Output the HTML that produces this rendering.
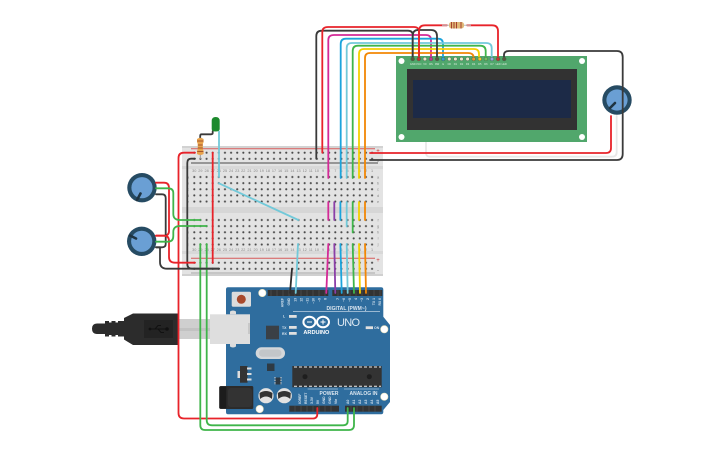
<!DOCTYPE html>
<html><head><meta charset="utf-8"><style>
html,body{margin:0;padding:0;background:#fff}
svg{display:block}
text{font-family:"Liberation Sans",sans-serif}
.w{fill:none;stroke-width:1.8;stroke-linejoin:round;stroke-linecap:round}
.pl{font-size:3.4px;fill:#d5e2ee;font-weight:bold}
.nm{font-size:3.8px;fill:#888}
</style></head><body>
<svg width="725" height="453" viewBox="0 0 725 453" xmlns="http://www.w3.org/2000/svg">
<defs>
<pattern id="h1" x="191.24" y="149.64" width="6.13" height="6.13" patternUnits="userSpaceOnUse"><circle cx="3.06" cy="3.06" r="1.05" fill="#4a4a4a"/></pattern>
<pattern id="h2" x="191.24" y="173.94" width="6.13" height="6.13" patternUnits="userSpaceOnUse"><circle cx="3.06" cy="3.06" r="1.05" fill="#4a4a4a"/></pattern>
<pattern id="h3" x="191.24" y="216.94" width="6.13" height="6.13" patternUnits="userSpaceOnUse"><circle cx="3.06" cy="3.06" r="1.05" fill="#4a4a4a"/></pattern>
<pattern id="h4" x="191.24" y="259.64" width="6.13" height="6.13" patternUnits="userSpaceOnUse"><circle cx="3.06" cy="3.06" r="1.05" fill="#4a4a4a"/></pattern>
</defs>

<!-- LCD shadow wire -->
<path class="w" d="M426 142V153Q426 156.7 430 156.7H612Q616.7 156.7 616.7 152V116" stroke="#e8e8e8"/>

<!-- LCD -->
<rect x="396" y="56" width="191" height="86" fill="#51a76c"/>
<circle cx="401.5" cy="61" r="3" fill="#fff"/><circle cx="582" cy="61" r="3" fill="#fff"/><circle cx="401.5" cy="137" r="3" fill="#fff"/><circle cx="582" cy="137" r="3" fill="#fff"/>
<rect x="407" y="69" width="170" height="61" fill="#323232"/>
<rect x="413" y="80" width="158" height="38" fill="#1c2a47"/>
<g font-size="2.6" fill="#dcecdf" text-anchor="middle">
<text x="412.7" y="65">GND</text><text x="418.8" y="65">VCC</text><text x="424.9" y="65">V0</text><text x="431" y="65">RS</text><text x="437.1" y="65">RW</text><text x="443.2" y="65">E</text><text x="449.3" y="65">D0</text><text x="455.4" y="65">D1</text><text x="461.5" y="65">D2</text><text x="467.6" y="65">D3</text><text x="473.7" y="65">D4</text><text x="479.8" y="65">D5</text><text x="485.9" y="65">D6</text><text x="492" y="65">D7</text><text x="498.1" y="65">LED</text><text x="504.2" y="65">LED</text>
</g>

<!-- Breadboard -->
<rect x="182" y="146" width="201" height="130" rx="2" fill="#e3e3e3"/>
<rect x="182" y="166" width="201" height="3" fill="#d8d8d8"/>
<rect x="182" y="207" width="201" height="6" fill="#d6d6d6"/>
<rect x="182" y="251" width="201" height="3" fill="#d8d8d8"/>
<rect x="182" y="146" width="201" height="2" fill="#d2d2d2"/>
<rect x="182" y="274" width="201" height="2" fill="#d0d0d0"/>
<path d="M191 148.7H375M191 258.3H375" stroke="#d65a5a" stroke-width="1"/>
<path d="M191 163H378" stroke="#4a4a4a" stroke-width="1"/>
<path d="M191 273H375" stroke="#aaa" stroke-width="1"/>
<rect x="191.24" y="149.64" width="183.9" height="12.26" fill="url(#h1)"/>
<rect x="191.24" y="173.94" width="183.9" height="30.65" fill="url(#h2)"/>
<rect x="191.24" y="216.94" width="183.9" height="30.65" fill="url(#h3)"/>
<rect x="191.24" y="259.64" width="183.9" height="12.26" fill="url(#h4)"/>
<g class="nm" text-anchor="middle">
<text x="378" y="152.5" fill="#c33" font-size="6">+</text><text x="378" y="163" font-size="6">-</text>
<text x="378" y="262" font-size="6" fill="#c33">+</text><text x="378" y="272" font-size="6">-</text>
<text x="378" y="178.5">a</text><text x="378" y="184.5">b</text><text x="378" y="190.5">c</text><text x="378" y="197">d</text><text x="378" y="203">e</text>
<text x="378" y="221.5">f</text><text x="378" y="227.5">g</text><text x="378" y="233.5">h</text><text x="378" y="239.5">i</text><text x="378" y="245.5">j</text>
<text x="188" y="178.5">a</text><text x="188" y="184.5">b</text><text x="188" y="190.5">c</text><text x="188" y="197">d</text><text x="188" y="203">e</text>
<text x="188" y="221.5">f</text><text x="188" y="227.5">g</text><text x="188" y="233.5">h</text><text x="188" y="239.5">i</text><text x="188" y="245.5">j</text>
</g>
<g class="nm" text-anchor="middle">
<text x="194.3" y="172">30</text><text x="200.4" y="172">29</text><text x="206.6" y="172">28</text><text x="212.7" y="172">27</text><text x="218.8" y="172">26</text><text x="225" y="172">25</text><text x="231.1" y="172">24</text><text x="237.2" y="172">23</text><text x="243.3" y="172">22</text><text x="249.5" y="172">21</text><text x="255.6" y="172">20</text><text x="261.7" y="172">19</text><text x="267.9" y="172">18</text><text x="274" y="172">17</text><text x="280.1" y="172">16</text><text x="286.3" y="172">15</text><text x="292.4" y="172">14</text><text x="298.5" y="172">13</text><text x="304.7" y="172">12</text><text x="310.8" y="172">11</text><text x="316.9" y="172">10</text><text x="323" y="172">9</text><text x="329.2" y="172">8</text><text x="335.3" y="172">7</text><text x="341.4" y="172">6</text><text x="347.6" y="172">5</text><text x="353.7" y="172">4</text><text x="359.8" y="172">3</text><text x="366" y="172">2</text><text x="372" y="172">1</text>
<text x="194.3" y="251">30</text><text x="200.4" y="251">29</text><text x="206.6" y="251">28</text><text x="212.7" y="251">27</text><text x="218.8" y="251">26</text><text x="225" y="251">25</text><text x="231.1" y="251">24</text><text x="237.2" y="251">23</text><text x="243.3" y="251">22</text><text x="249.5" y="251">21</text><text x="255.6" y="251">20</text><text x="261.7" y="251">19</text><text x="267.9" y="251">18</text><text x="274" y="251">17</text><text x="280.1" y="251">16</text><text x="286.3" y="251">15</text><text x="292.4" y="251">14</text><text x="298.5" y="251">13</text><text x="304.7" y="251">12</text><text x="310.8" y="251">11</text><text x="316.9" y="251">10</text><text x="323" y="251">9</text><text x="329.2" y="251">8</text><text x="335.3" y="251">7</text><text x="341.4" y="251">6</text><text x="347.6" y="251">5</text><text x="353.7" y="251">4</text><text x="359.8" y="251">3</text><text x="366" y="251">2</text><text x="372" y="251">1</text>
</g>

<!-- Arduino -->
<path d="M228 287.3H381Q383.3 287.3 383.3 289.5V316.7L390 325V402L383.3 410V412Q383.3 414.3 381 414.3H228Q226 414.3 226 412V289.5Q226 287.3 228 287.3Z" fill="#2f6d9e"/>
<circle cx="262.3" cy="293" r="3.7" fill="#fff" stroke="#e8e0b8" stroke-width=".6"/>
<circle cx="384.3" cy="329.3" r="3.7" fill="#fff" stroke="#e8e0b8" stroke-width=".6"/>
<circle cx="384.3" cy="396.7" r="3.7" fill="#fff" stroke="#e8e0b8" stroke-width=".6"/>
<circle cx="259.7" cy="409" r="3.7" fill="#fff" stroke="#e8e0b8" stroke-width=".6"/>
<rect x="267.7" y="290" width="60.6" height="6" fill="#333"/><rect x="332.3" y="290" width="50" height="6" fill="#333"/>
<rect x="289.3" y="405.7" width="49.7" height="6" fill="#333"/><rect x="345" y="405.7" width="36.7" height="6" fill="#333"/>
<path d="M271 290v6M277 290v6M283 290v6M289 290v6M295 290v6M301 290v6M307 290v6M313 290v6M319 290v6M325 290v6M338 290v6M344 290v6M350 290v6M356 290v6M362 290v6M368 290v6M374 290v6M380 290v6M295 405.7v6M301 405.7v6M307 405.7v6M313 405.7v6M319 405.7v6M325 405.7v6M331 405.7v6M351 405.7v6M357 405.7v6M363 405.7v6M369 405.7v6M375 405.7v6" stroke="#555" stroke-width=".6"/>
<rect x="231.7" y="291.7" width="19.3" height="15" rx="1.5" fill="#dcdcdc"/>
<circle cx="241.3" cy="299.3" r="4.5" fill="#a8492c"/>
<path d="M293 311.7H380M307.6 389H338M344 389H379" stroke="#dbe6f0" stroke-width=".6"/>
<text x="346.5" y="310" font-size="5" font-weight="bold" fill="#dbe6f0" text-anchor="middle" textLength="40">DIGITAL (PWM~)</text>
<text x="329" y="394.8" font-size="5" font-weight="bold" fill="#dbe6f0" text-anchor="middle">POWER</text>
<text x="363.5" y="394.8" font-size="5" font-weight="bold" fill="#dbe6f0" text-anchor="middle">ANALOG IN</text>
<g class="pl" text-anchor="end">
<text transform="translate(283.5 298) rotate(-90)">AREF</text><text transform="translate(290 298) rotate(-90)">GND</text><text transform="translate(296.5 298) rotate(-90)">13</text><text transform="translate(302.5 298) rotate(-90)">12</text><text transform="translate(308.5 298) rotate(-90)">~11</text><text transform="translate(314.5 298) rotate(-90)">~10</text><text transform="translate(320.5 298) rotate(-90)">~9</text><text transform="translate(326.5 298) rotate(-90)">8</text><text transform="translate(339 298) rotate(-90)">7</text><text transform="translate(345 298) rotate(-90)">~6</text><text transform="translate(351 298) rotate(-90)">~5</text><text transform="translate(357 298) rotate(-90)">4</text><text transform="translate(363 298) rotate(-90)">~3</text><text transform="translate(369 298) rotate(-90)">2</text><text transform="translate(375 298) rotate(-90)">TX 1</text><text transform="translate(381 298) rotate(-90)">RX 0</text>
</g>
<g class="pl" text-anchor="start">
<text transform="translate(301 404) rotate(-90)">IOREF</text><text transform="translate(307 404) rotate(-90)">RESET</text><text transform="translate(313 404) rotate(-90)">3.3V</text><text transform="translate(319 404) rotate(-90)">5V</text><text transform="translate(325 404) rotate(-90)">GND</text><text transform="translate(331 404) rotate(-90)">GND</text><text transform="translate(337 404) rotate(-90)">Vin</text>
<text transform="translate(349 404) rotate(-90)">A0</text><text transform="translate(355 404) rotate(-90)">A1</text><text transform="translate(361 404) rotate(-90)">A2</text><text transform="translate(367 404) rotate(-90)">A3</text><text transform="translate(373 404) rotate(-90)">A4</text><text transform="translate(379 404) rotate(-90)">A5</text>
</g>
<!-- LEDs -->
<rect x="289" y="315" width="7.7" height="2.8" fill="#e0e0e0"/><rect x="289" y="326" width="7.7" height="2.8" fill="#e0e0e0"/><rect x="289" y="332" width="7.7" height="2.8" fill="#e0e0e0"/><rect x="365.7" y="326.3" width="7.3" height="2.8" fill="#e0e0e0"/>
<g font-size="3.5" font-weight="bold" fill="#dbe6f0"><text x="283" y="317.5">L</text><text x="282" y="329">TX</text><text x="282" y="335">RX</text><text x="374" y="329">ON</text></g>
<!-- logo -->
<ellipse cx="309.4" cy="322" rx="6" ry="5.3" fill="none" stroke="#fff" stroke-width="2"/>
<ellipse cx="323" cy="322" rx="6" ry="5.3" fill="none" stroke="#fff" stroke-width="2"/>
<path d="M307 322h5M320.5 322h5M323 319.5v5" stroke="#fff" stroke-width="1"/>
<text x="316.4" y="334" font-size="5.6" font-weight="bold" fill="#fff" text-anchor="middle" textLength="26">ARDUINO</text>
<text x="348.5" y="326" font-size="11" fill="#dde9f3" text-anchor="middle" textLength="23">UNO</text>
<!-- parts -->
<rect x="266" y="325.7" width="13" height="13.6" fill="#3a4046"/>
<rect x="255.7" y="347.3" width="29.3" height="11.7" rx="5.8" fill="#d4d7da"/>
<rect x="259" y="349.5" width="22.5" height="7.3" rx="3.6" fill="#c3c6c9"/>
<rect x="292.3" y="366" width="89.4" height="21.3" fill="#333"/>
<path d="M294 367H381M294 386.3H381" stroke="#eee" stroke-width="1" stroke-dasharray="3 2"/>
<circle cx="305" cy="376.7" r="2.5" fill="#1e1e1e"/><circle cx="369.3" cy="376.7" r="2.5" fill="#1e1e1e"/>
<rect x="237.5" y="371" width="3" height="7" fill="#ddd"/><rect x="240" y="366" width="7.5" height="16.7" fill="#333"/>
<path d="M247 368.5h4.5M247 374h4.5M247 379.5h4.5" stroke="#ddd" stroke-width="2"/>
<rect x="267" y="363.5" width="7.5" height="7.5" fill="#2e3a44"/>
<rect x="275.5" y="377.5" width="5" height="7" fill="#2e3a44"/><path d="M275 377v8M281 377v8" stroke="#ddd" stroke-width="1" stroke-dasharray="1.4 1.2"/>
<rect x="219.3" y="386" width="34" height="23" rx="1.5" fill="#2b2b2b"/>
<rect x="219.3" y="387" width="7" height="21" fill="#1c1c1c"/>
<rect x="228" y="388" width="24" height="19" rx="3" fill="#333"/>
<circle cx="266" cy="395.7" r="7.6" fill="#e2e2e2"/><path d="M259.5 393Q266 389 272.5 393L272 399Q266 394 260 399Z" fill="#333"/>
<circle cx="284.3" cy="395.7" r="7.6" fill="#e2e2e2"/><path d="M277.8 393Q284.3 389 290.8 393L290.3 399Q284.3 394 278.3 399Z" fill="#333"/>

<!-- USB -->
<rect x="178" y="319" width="32" height="20" fill="#cfcfcf"/>
<rect x="178" y="328" width="32" height="3" fill="#c2c2c2"/>
<path d="M230 314.3V311.5Q233 309.5 236 311.5V314.3ZM230 344V346.5Q233 348.5 236 346.5V344Z" fill="#dcdcdc"/>
<rect x="210" y="314.3" width="40" height="29.7" fill="#dedede"/>
<rect x="248" y="323" width="2" height="11" fill="#c8c8c8"/>
<path d="M178 313.5H133L124 318V321H118V322.5H115.5V321H111.5V322.5H109V321H105V323.5H97Q92 323.5 92 328.8T97 334H105V336.5H109V335H111.5V336.5H115.5V335H118V336.5H124V339.5L133 345H178Z" fill="#2c2c2c"/>
<rect x="144" y="320" width="29" height="18" fill="#232323"/>
<path d="M150 329H167M155 329L158 325.5H161M158 329L161 332.5H164" stroke="#111" stroke-width="1" fill="none"/>
<circle cx="167" cy="329" r="1.8" fill="#111"/><circle cx="150" cy="329" r="1.4" fill="#111"/>

<!-- Pots -->
<g>
<circle cx="142" cy="187.7" r="14.7" fill="#264b63"/><circle cx="142" cy="187.7" r="10.6" fill="#6a9fd4"/>
<path d="M140.5 193.5L137 200" stroke="#1f3442" stroke-width="2.6" stroke-linecap="round"/>
<circle cx="141.7" cy="241.3" r="14.7" fill="#264b63"/><circle cx="141.7" cy="241.3" r="10.6" fill="#6a9fd4"/>
<path d="M136 238.5L130 235.5" stroke="#1f3442" stroke-width="2.6" stroke-linecap="round"/>
<circle cx="617" cy="100" r="14.7" fill="#264b63"/><circle cx="617" cy="100" r="10.6" fill="#6a9fd4"/>
<path d="M615 103L610 108" stroke="#1f3442" stroke-width="2.6" stroke-linecap="round"/>
</g>

<!-- LED lead + resistor -->
<path class="w" d="M212.7 131V133Q212.7 134.3 211 134.3H201.5Q200.2 134.3 200.2 136V140" stroke="#3a3a3a" stroke-width="1.2"/>
<path d="M200.3 155V159" stroke="#999" stroke-width="1"/>
<path d="M197 139Q200.3 136.5 203.6 139V142L202.8 144V149L203.6 151V154Q200.3 156 197 154V151L197.8 149V144L197 142Z" fill="#e8a34c"/>
<path d="M197.2 141h6.2M197.8 145h5M197.8 148h5M197.2 151.5h6.2" stroke="#a5562e" stroke-width="1"/>

<!-- Wires -->
<g class="w">
<path d="M219 131.5V177" stroke="#72c9d9"/>
<path d="M219 183.3L298.3 220" stroke="#72c9d9"/>
<path d="M212.7 152.7V263" stroke="#e8232a"/>
<path d="M195 158.7H191Q187.3 158.7 187.3 163V264Q187.3 268.7 192 268.7H219" stroke="#3a3a3a"/>
<path d="M195 152.7H184Q178.5 152.7 178.5 158V413Q178.5 418.5 184 418.5H313Q317.3 418.5 317.3 414V408" stroke="#e8232a"/>
<path d="M200.3 244V425Q200.3 430 205 430H349Q354 430 354 425V408" stroke="#3fb54a"/>
<path d="M206.7 244V420Q206.7 425.3 212 425.3H343Q347.7 425.3 347.7 421V408" stroke="#3fb54a"/>
<path d="M156 182.7H164Q169 182.7 169 188V231Q169 235.7 164 235.7H156" stroke="#e8232a"/>
<path d="M156 188.3H168Q173.3 188.3 173.3 193V214Q173.3 220 180 220H200.3" stroke="#3fb54a"/>
<path d="M156 194.3H162Q165.7 194.3 165.7 198V244Q165.7 247.3 162 247.3H156" stroke="#3a3a3a"/>
<path d="M156 235.7H164Q169 235.7 169 241V257Q169 262.7 175 262.7H195" stroke="#e8232a"/>
<path d="M156 241.7H168Q173.3 241.7 173.3 236V232Q173.3 226 180 226H206.7" stroke="#3fb54a"/>
<path d="M156 247.3H160V262Q160 268.7 167 268.7H219" stroke="#3a3a3a"/>
<path d="M316.3 158.7V36Q316.3 30.7 322 30.7H408Q412.7 30.7 412.7 35V59" stroke="#3a3a3a"/>
<path d="M322.3 152.7V32Q322.3 27 328 27H414Q419 27 419 32V59" stroke="#e8232a"/>
<path d="M328.3 178V40Q328.3 35 334 35H426Q431 35 431 40V59" stroke="#d42a97"/>
<path d="M340.7 178V44Q340.7 38.7 346 38.7H438Q443 38.7 443 44V59" stroke="#1ca4dc"/>
<path d="M346.7 178V48Q346.7 43 352 43H486Q491.7 43 491.7 48V59" stroke="#72c9d9"/>
<path d="M352.7 178V51Q352.7 45.7 358 45.7H480Q485.7 45.7 485.7 51V59" stroke="#3fb54a"/>
<path d="M359 178V54Q359 49 364 49H474Q479 49 479 54V59" stroke="#f5cf00"/>
<path d="M365 178V58Q365 53 370 53H468Q473.7 53 473.7 58V59" stroke="#f28705"/>
<path d="M412.7 59V36Q412.7 30 418 30H431Q437 30 437 36V59" stroke="#3a3a3a"/>
<path d="M419 59V31Q419 25.3 425 25.3H447" stroke="#e8232a"/>
<path d="M467 25.3H492Q498 25.3 498 31V59" stroke="#e8232a"/>
<path d="M504 59V55Q504 51 509 51H617Q622.7 51 622.7 57V154Q622.7 160 617 160H370" stroke="#3a3a3a"/>
<path d="M611 116V148Q611 153 606 153H370" stroke="#e8232a"/>
<path d="M328.3 202V220" stroke="#d42a97"/>
<path d="M334.3 202V220" stroke="#8b3fa8"/>
<path d="M340.4 202V220" stroke="#1ca4dc"/>
<path d="M346.7 202V226.5" stroke="#72c9d9"/>
<path d="M352.7 202V232.5" stroke="#3fb54a"/>
<path d="M359 202V220" stroke="#f5cf00"/>
<path d="M365 202V220" stroke="#f28705"/>
<path d="M292 268.7L290 293" stroke="#2e2e2e"/>
<path d="M298 244L295.7 293" stroke="#72c9d9"/>
<path d="M328.3 244L326.3 293" stroke="#d42a97"/>
<path d="M334.3 244L335.3 293" stroke="#8b3fa8"/>
<path d="M340.4 244L341.7 293" stroke="#1ca4dc"/>
<path d="M346.7 244L347.7 293" stroke="#72c9d9"/>
<path d="M352.7 244L354 293" stroke="#3fb54a"/>
<path d="M359 244L360 293" stroke="#f5cf00"/>
<path d="M365 244L366 293" stroke="#f28705"/>
</g>

<!-- LED on top -->
<path d="M211.7 121Q211.7 117 215.7 117T219.7 121V129Q219.7 131.5 215.7 131.5T211.7 129Z" fill="#1c8a2d"/>

<!-- LCD pins on top of wires -->
<g fill="#efe9cf" stroke="#3e6b4d" stroke-width=".5">
<circle cx="412.7" cy="59" r="1.9" fill="#5a5a40"/><circle cx="418.8" cy="59" r="1.9" fill="#c33"/><circle cx="424.9" cy="59" r="1.9"/><circle cx="431" cy="59" r="1.9" fill="#c23a90"/><circle cx="437.1" cy="59" r="1.9" fill="#5a5a40"/><circle cx="443.2" cy="59" r="1.9" fill="#3aa0d0"/><circle cx="449.3" cy="59" r="1.9"/><circle cx="455.4" cy="59" r="1.9"/><circle cx="461.5" cy="59" r="1.9"/><circle cx="467.6" cy="59" r="1.9"/><circle cx="473.7" cy="59" r="1.9" fill="#e89a30"/><circle cx="479.8" cy="59" r="1.9" fill="#eecb30"/><circle cx="485.9" cy="59" r="1.9" fill="#74c060"/><circle cx="492" cy="59" r="1.9" fill="#9ad"/><circle cx="498.1" cy="59" r="1.9" fill="#c33"/><circle cx="504.2" cy="59" r="1.9" fill="#5a5a40"/>
</g>

<!-- LCD resistor -->
<path d="M442 25.3H450M463 25.3H471" stroke="#bbb" stroke-width="1"/>
<rect x="449" y="22" width="15" height="6.5" rx="2.5" fill="#e0b878"/>
<path d="M451.5 22v6.5M454 22v6.5M456.5 22v6.5M461 22v6.5" stroke="#a5402e" stroke-width="1"/>
</svg>
</body></html>
